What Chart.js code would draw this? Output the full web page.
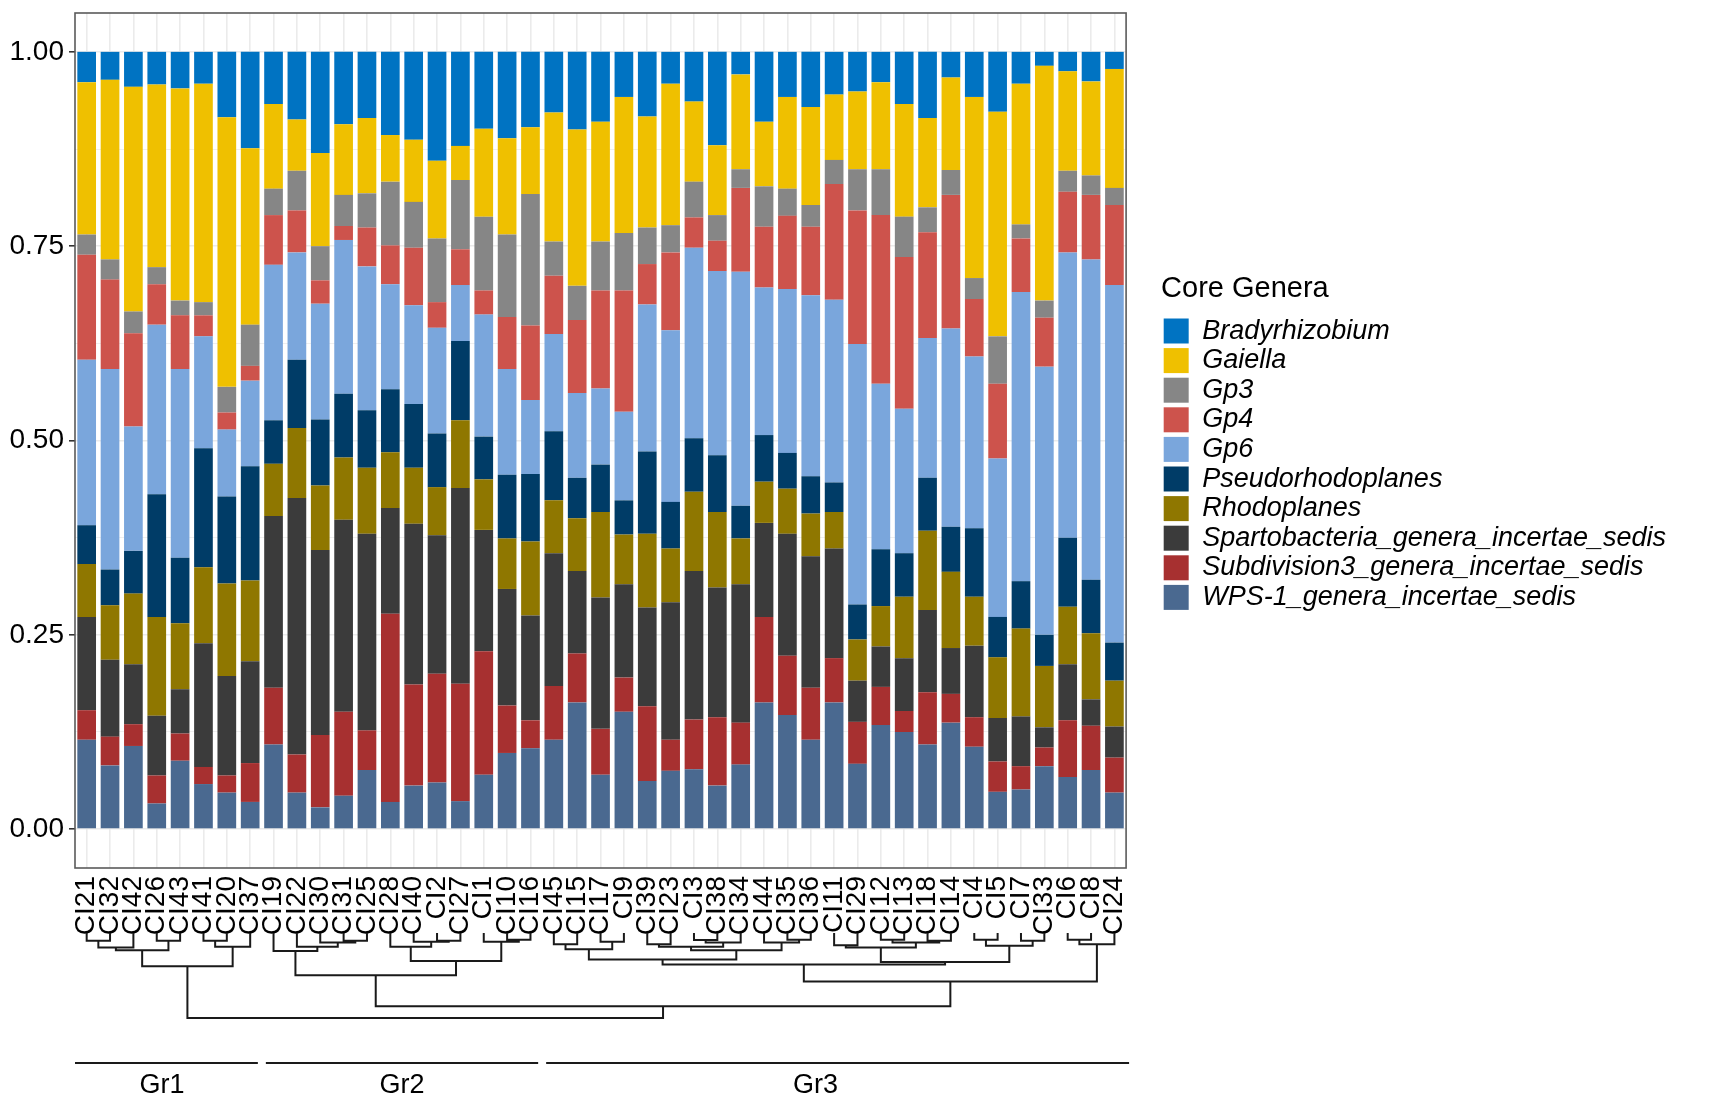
<!DOCTYPE html>
<html>
<head>
<meta charset="utf-8">
<title>Core Genera</title>
<script src="https://cdn.jsdelivr.net/npm/chart.js@4.4.1/dist/chart.umd.min.js"></script>
<style>
  html, body { margin: 0; padding: 0; background: #fff; }
  canvas { display: block; }
</style>
</head>
<body>
<canvas id="myChart" width="1713" height="1100"></canvas>
<script>
'use strict';
//--------------------DATA

// samples, in dendrogram order
let samples = [
  'CI21', 'CI32', 'CI42', 'CI26', 'CI43', 'CI41', 'CI20', 'CI37',
  'CI19', 'CI22', 'CI30', 'CI31', 'CI25', 'CI28', 'CI40', 'CI2', 'CI27', 'CI1', 'CI10', 'CI16',
  'CI45', 'CI15', 'CI17', 'CI9', 'CI39', 'CI23', 'CI3', 'CI38', 'CI34', 'CI44', 'CI35', 'CI36',
  'CI11', 'CI29', 'CI12', 'CI13', 'CI18', 'CI14', 'CI4', 'CI5', 'CI7', 'CI33', 'CI6', 'CI8', 'CI24',
];

// legend order (top of the stack first)
let genera = [
  'Bradyrhizobium',
  'Gaiella',
  'Gp3',
  'Gp4',
  'Gp6',
  'Pseudorhodoplanes',
  'Rhodoplanes',
  'Spartobacteria_genera_incertae_sedis',
  'Subdivision3_genera_incertae_sedis',
  'WPS-1_genera_incertae_sedis',
];

// relative abundance per sample (same order as samples)
let bradyrhizobium = [
  .039, .036, .045, .042, .047, .041, .084, .124,
  .067, .087, .130, .093, .085, .107, .113, .140, .121, .099, .111, .097,
  .078, .100, .090, .058, .083, .041, .064, .120, .029, .090, .058, .071,
  .055, .051, .039, .067, .085, .033, .058, .077, .041, .018, .025, .038, .022,
];
let gaiella = [
  .196, .231, .289, .235, .273, .281, .347, .227,
  .109, .066, .120, .091, .097, .060, .080, .100, .044, .113, .124, .086,
  .166, .201, .154, .175, .143, .182, .103, .090, .122, .083, .118, .126,
  .084, .100, .112, .145, .115, .119, .233, .289, .181, .302, .128, .121, .153,
];
let gp3 = [
  .026, .026, .028, .022, .019, .017, .033, .053,
  .034, .051, .044, .040, .044, .082, .059, .082, .089, .095, .106, .169,
  .044, .044, .063, .074, .047, .035, .046, .033, .024, .052, .035, .028,
  .031, .053, .059, .052, .032, .032, .027, .061, .018, .022, .027, .025, .022,
];
let gp4 = [
  .135, .115, .120, .052, .069, .027, .022, .019,
  .064, .054, .030, .018, .050, .050, .074, .033, .046, .031, .067, .096,
  .075, .094, .126, .156, .052, .100, .039, .039, .108, .078, .094, .088,
  .149, .172, .217, .195, .136, .172, .074, .096, .069, .063, .078, .083, .103,
];
let gp6 = [
  .213, .258, .160, .218, .243, .144, .086, .110,
  .200, .138, .149, .198, .185, .135, .127, .136, .072, .157, .136, .095,
  .125, .109, .098, .114, .189, .221, .245, .237, .301, .190, .211, .233,
  .235, .335, .213, .186, .180, .255, .221, .204, .372, .345, .367, .412, .460,
];
let pseudorhodoplanes = [
  .050, .046, .055, .158, .084, .153, .112, .147,
  .056, .088, .085, .082, .074, .081, .082, .069, .102, .055, .082, .087,
  .089, .052, .061, .044, .106, .060, .069, .073, .042, .060, .046, .048,
  .038, .045, .073, .056, .068, .058, .088, .052, .061, .040, .089, .069, .049,
];
let rhodoplanes = [
  .068, .070, .091, .127, .085, .098, .119, .104,
  .067, .090, .083, .080, .085, .072, .072, .062, .087, .065, .065, .095,
  .068, .068, .110, .064, .095, .069, .102, .097, .059, .053, .058, .055,
  .047, .053, .052, .079, .102, .098, .063, .078, .113, .079, .074, .085, .059,
];
let spartobacteria = [
  .120, .099, .077, .077, .057, .159, .128, .131,
  .221, .330, .238, .247, .253, .136, .207, .178, .252, .156, .150, .135,
  .171, .106, .169, .120, .127, .177, .191, .167, .178, .121, .157, .169,
  .141, .053, .052, .068, .106, .059, .092, .056, .064, .026, .072, .034, .040,
];
let subdivision3 = [
  .038, .037, .028, .036, .035, .022, .022, .050,
  .073, .049, .093, .108, .051, .242, .130, .140, .151, .159, .061, .036,
  .069, .063, .059, .044, .096, .040, .064, .088, .054, .110, .076, .067,
  .057, .054, .049, .027, .067, .037, .038, .039, .030, .024, .073, .057, .045,
];
let wps1 = [
  .115, .082, .107, .033, .088, .058, .047, .035,
  .109, .047, .028, .043, .076, .035, .056, .060, .036, .070, .098, .104,
  .115, .163, .070, .151, .062, .075, .077, .056, .083, .163, .147, .115,
  .163, .084, .134, .125, .109, .137, .106, .048, .051, .081, .067, .076, .047,
];

let generaValues = [
  bradyrhizobium, gaiella, gp3, gp4, gp6,
  pseudorhodoplanes, rhodoplanes, spartobacteria, subdivision3, wps1,
];

// y axis
let yTickValues = [0, 0.25, 0.5, 0.75, 1];
let yTickLabels = ['0.00', '0.25', '0.50', '0.75', '1.00'];
let yMinorValues = [0.125, 0.375, 0.625, 0.875];

// groups under the dendrogram
let groupNames = ['Gr1', 'Gr2', 'Gr3'];
let groupSizes = [8, 12, 25];

// hclust style merges: negative = leaf (1-based sample), positive = earlier merge row
let dendroMerges = [
  [-1, -2, 20], [1, -3, 40], [-4, -5, 20], [2, 3, 48], [-6, -7, 20], [5, -8, 38], [4, 6, 95],
  [-12, -13, 20], [-11, 8, 25], [-10, 9, 38], [-9, 10, 50],
  [-16, -17, 20], [-15, 12, 23], [-14, 13, 38], [-19, -20, 17], [-18, 15, 23],
  [14, 16, 80], [11, 17, 122],
  [-21, -22, 30], [-23, -24, 23], [19, 20, 45],
  [-25, -26, 30], [-27, -28, 18], [23, -29, 25], [22, 24, 38],
  [-31, -32, 17], [-30, 26, 25], [25, 27, 48], [21, 28, 75],
  [-33, -34, 33], [-35, -36, 17], [-37, -38, 20], [31, 32, 25], [30, 33, 40],
  [-39, -40, 17], [-41, -42, 20], [35, 36, 35], [34, 37, 83], [29, 38, 90],
  [-43, -44, 17], [40, -45, 30], [39, 41, 140],
  [18, 42, 213], [7, 43, 248],
];

//--------------------STYLE

const FONT = 'Liberation Sans';
const colors = [
  '#0073C2', '#EFC000', '#868686', '#CD534C', '#7AA6DC',
  '#003C67', '#8F7700', '#3B3B3B', '#A73030', '#4A6990',
];

// where each group name sits, in category units
const groupLabelAt = [3.23, 13.5, 31.2];

Chart.defaults.font.family = FONT;

//--------------------FUNCTIONS

function isMajor(value) {
  return yTickValues.includes(value);
}

// datasets go bottom -> top, so walk the legend list backwards
function buildDatasets() {
  let datasets = [];
  for (let i = genera.length - 1; i >= 0; i--) {
    datasets.push({
      label: genera[i],
      data: generaValues[i],
      backgroundColor: colors[i],
      borderColor: colors[i],
      borderWidth: 0,
      barPercentage: 0.8,
      categoryPercentage: 1.0,
    });
  }
  return datasets;
}

// no extra label padding, the panel size is fixed by hand
function noPadding(scale) {
  scale.paddingTop = 0;
  scale.paddingBottom = 0;
  scale.paddingLeft = 0;
  scale.paddingRight = 0;
}

function drawDendrogram(chart) {
  const ctx = chart.ctx;
  const xScale = chart.scales.x;
  const base = chart.chartArea.bottom + 66;
  const unit = 84 / 248;
  let nodes = [];

  function getNode(ref) {
    if (ref < 0) {
      return { x: xScale.getPixelForValue(-ref - 1), h: 0 };
    }
    return nodes[ref - 1];
  }

  ctx.save();
  ctx.strokeStyle = '#1a1a1a';
  ctx.lineWidth = 2;
  ctx.lineCap = 'square';
  ctx.beginPath();
  dendroMerges.forEach(function (merge) {
    let left = getNode(merge[0]);
    let right = getNode(merge[1]);
    let y = base + merge[2] * unit;
    ctx.moveTo(left.x, base + left.h * unit);
    ctx.lineTo(left.x, y);
    ctx.lineTo(right.x, y);
    ctx.lineTo(right.x, base + right.h * unit);
    nodes.push({ x: (left.x + right.x) / 2, h: merge[2] });
  });
  ctx.stroke();
  ctx.restore();
}

function drawGroups(chart) {
  const ctx = chart.ctx;
  const xScale = chart.scales.x;
  const area = chart.chartArea;
  const lineY = area.bottom + 195;
  const textY = area.bottom + 218;

  ctx.save();
  ctx.strokeStyle = '#1a1a1a';
  ctx.lineWidth = 2;
  ctx.fillStyle = '#000';
  ctx.font = '27px "' + FONT + '"';
  ctx.textAlign = 'center';
  ctx.textBaseline = 'middle';

  let first = 0;
  for (let g = 0; g < groupNames.length; g++) {
    let last = first + groupSizes[g] - 1;
    let x1 = g === 0 ? area.left : xScale.getPixelForValue(first - 0.5) + 4;
    let x2 = g === groupNames.length - 1 ? area.right + 3 : xScale.getPixelForValue(last + 0.5) - 4;
    ctx.beginPath();
    ctx.moveTo(x1, lineY);
    ctx.lineTo(x2, lineY);
    ctx.stroke();
    ctx.fillText(groupNames[g], xScale.getPixelForValue(groupLabelAt[g]), textY);
    first = last + 1;
  }
  ctx.restore();
}

// panel border + dendrogram + group bars
const extrasPlugin = {
  id: 'extras',
  afterDraw(chart) {
    const ctx = chart.ctx;
    const area = chart.chartArea;
    ctx.save();
    ctx.strokeStyle = '#5a5a5a';
    ctx.lineWidth = 1.6;
    ctx.strokeRect(area.left, area.top, area.right - area.left, area.bottom - area.top);
    ctx.restore();
    drawDendrogram(chart);
    drawGroups(chart);
  },
};

//--------------------CHART

const config = {
  type: 'bar',
  data: {
    labels: samples,
    datasets: buildDatasets(),
  },
  options: {
    responsive: false,
    animation: false,
    layout: { padding: { top: 13, right: 37, bottom: 0, left: 0 } },
    scales: {
      x: {
        stacked: true,
        afterFit: function (scale) {
          scale.height = 232;
          noPadding(scale);
        },
        ticks: {
          autoSkip: false,
          minRotation: 90,
          maxRotation: 90,
          padding: 8,
          color: '#000',
          font: { family: FONT, size: 28 },
        },
        grid: { offset: false, color: '#ebebeb', lineWidth: 1.6, drawTicks: false },
        border: { display: false },
      },
      y: {
        stacked: true,
        min: -0.05,
        max: 1.05,
        afterFit: function (scale) {
          scale.width = 75;
          noPadding(scale);
        },
        afterBuildTicks: function (scale) {
          let values = yTickValues.concat(yMinorValues).sort(function (a, b) { return a - b; });
          scale.ticks = values.map(function (v) { return { value: v }; });
        },
        ticks: {
          autoSkip: false,
          padding: 5,
          color: '#000',
          font: { family: FONT, size: 28 },
          callback: function (value) {
            let i = yTickValues.indexOf(value);
            return i >= 0 ? yTickLabels[i] : '';
          },
        },
        grid: {
          color: '#ebebeb',
          lineWidth: function (c) { return isMajor(c.tick.value) ? 1.6 : 0.8; },
          tickColor: function (c) { return isMajor(c.tick.value) ? '#333' : 'rgba(0,0,0,0)'; },
          tickLength: 6,
          tickWidth: 1.6,
        },
        border: { display: false },
      },
      // empty strip between the panel and the legend
      gap: {
        type: 'linear',
        position: 'right',
        display: true,
        afterFit: function (scale) {
          scale.width = 35;
          noPadding(scale);
        },
        ticks: { display: false },
        grid: { display: false },
        border: { display: false },
      },
    },
    plugins: {
      tooltip: { enabled: false },
      legend: {
        position: 'right',
        align: 'start',
        reverse: true,
        maxWidth: 640,
        title: {
          display: true,
          text: 'Core Genera',
          position: 'start',
          color: '#000',
          font: { family: FONT, size: 29 },
          padding: { top: 261.5, bottom: 5.6 },
        },
        labels: {
          boxWidth: 25,
          boxHeight: 25,
          padding: 2.6,
          color: '#000',
          font: { family: FONT, size: 27, style: 'italic' },
        },
      },
    },
  },
  plugins: [extrasPlugin],
};

const myChart = new Chart(document.getElementById('myChart'), config);
</script>
</body>
</html>
